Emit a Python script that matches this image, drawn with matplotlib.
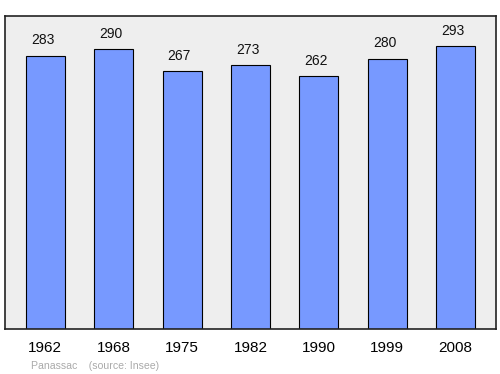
import matplotlib
matplotlib.use("Agg")
import matplotlib.pyplot as plt
import numpy as np

plt.rcParams['font.family'] = ['Liberation Sans', 'DejaVu Sans']

years = ['1962', '1968', '1975', '1982', '1990', '1999', '2008']
population = [283, 290, 267, 273, 262, 280, 293]

fig = plt.figure(figsize=(5, 3.74), dpi=100)
# axes box in pixels: left 5, right 496, top 16, bottom 329
ax = fig.add_axes([5 / 500, 1 - 329 / 374, 491 / 500, 313 / 374])
ax.set_facecolor('#eeeeee')

x = np.arange(len(years))
ax.bar(x, population, width=0.57, color='#7799ff', edgecolor='black', linewidth=0.8, zorder=2)

for xi, v in zip(x, population):
    ax.annotate(str(v), (xi, v), xytext=(-2, 6), textcoords='offset points',
                ha='center', va='bottom', fontsize=10, color='#111111')

ax.set_xlim(-0.59, 6.59)
ax.set_ylim(0, 324)
ax.set_yticks([])
ax.set_xticks(x)
ax.set_xticklabels(years, fontsize=11)
ax.tick_params(axis='x', length=0, pad=9)
for s in ax.spines.values():
    s.set_linewidth(1.2)
    s.set_color('#222222')

fig.text(31 / 500, 1 - 366 / 374, 'Panassac    (source: Insee)', fontsize=7.6,
         color='#aaaaaa', ha='left', va='center')

fig.savefig('out.png', dpi=100)
